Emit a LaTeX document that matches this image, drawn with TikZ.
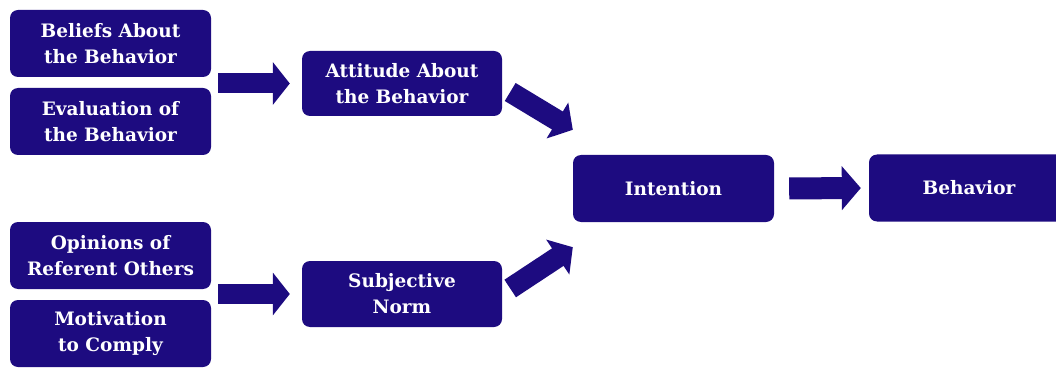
\documentclass[tikz,border=0pt]{standalone}
\usepackage{fontspec}
\setmainfont{DejaVu Serif}
\usetikzlibrary{arrows.meta}
\definecolor{tpbblue}{RGB}{29,11,128}

\begin{document}
\begin{tikzpicture}[x=1pt,y=1pt,
    box/.style={fill=tpbblue, rounded corners=8pt, minimum width=201pt, minimum height=67pt,
        inner sep=0pt, text=white, align=center, font=\bfseries\fontsize{18.5}{26}\selectfont},
    bigarrow/.style={tpbblue, line width=20pt, -{Triangle[width=42pt,length=17pt]}}]
    \useasboundingbox (0,0) rectangle (1056,367);
    % left column
    \node[box] (bel) at (110.5,323.5) {Beliefs About\\the Behavior};
    \node[box] (eva) at (110.5,245.5) {Evaluation of\\the Behavior};
    \node[box] (opi) at (110.5,111.5) {Opinions of\\Referent Others};
    \node[box] (mot) at (110.5,33.5) {Motivation\\to Comply};
    % middle
    \node[box, minimum width=200pt, minimum height=65pt] (att) at (402,283.5) {Attitude About\\the Behavior};
    \node[box, minimum width=200pt, minimum height=66pt] (sub) at (402,73) {Subjective\\Norm};
    % right
    \node[box] (int) at (673.5,178.5) {Intention};
    \node[box, minimum width=200pt] (beh) at (969,179) {Behavior};
    % arrows
    \draw[bigarrow, shorten <=7pt, shorten >=12pt] (att.west -| bel.east) -- (att.west);
    \draw[bigarrow, shorten <=7pt, shorten >=12pt] (sub.west -| opi.east) -- (sub.west);
    \draw[bigarrow, line width=22pt, -{Triangle[width=43pt,length=19pt]}, shorten <=15pt, shorten >=8pt] (int.east) -- (beh.west);
    \coordinate (atttail) at ([shift={(8,-8.5)}]att.east);
    \coordinate (atttip) at ([shift={(0,25)}]int.north west);
    \coordinate (subtail) at ([shift={(8,5.5)}]sub.east);
    \coordinate (subtip) at ([shift={(0,-25)}]int.south west);
    \draw[bigarrow, line width=21pt, -{Triangle[width=41pt,length=18pt]}] (atttail) -- (atttip);
    \draw[bigarrow, line width=21pt, -{Triangle[width=41pt,length=18pt]}] (subtail) -- (subtip);
\end{tikzpicture}
\end{document}
